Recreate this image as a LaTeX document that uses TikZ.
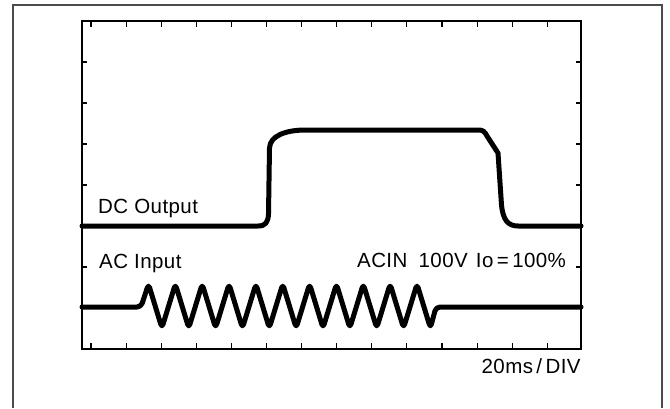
\documentclass[tikz,border=0pt]{standalone}
\usepackage{fontspec}
\setmainfont{Liberation Sans}
\newfontfamily\scopefont[LetterSpace=2]{Liberation Sans}

\begin{document}
\begin{tikzpicture}[x=1pt,y=-1pt,
    frame/.style={draw=black!70,line width=1.3pt},
    axis/.style={line width=1.1pt},
    trace/.style={line width=5pt,line join=round,line cap=round},
    lbl/.style={anchor=base west,inner sep=0pt,font=\fontsize{20.5}{24}\scopefont}]
  \useasboundingbox (0,0) rectangle (670,408);
  \draw[frame] (13,408) -- (13,5) -- (662,5) -- (662,408);

  \coordinate (nw) at (82,21);
  \coordinate (se) at (581,349);
  \draw[axis] (nw) rectangle (se);
  \foreach \i in {0,...,13}
    \draw[axis] (91+35.1*\i,21) -- ++(0,6) (91+35.1*\i,349) -- ++(0,-6);
  \foreach \j in {1,...,7}
    \draw[axis] (82,21+41*\j) -- ++(5,0) (581,21+41*\j) -- ++(-5,0);

  \draw[trace] (82,226) -- (258,226)
    .. controls (266,226) and (268,222) .. (268.5,214) -- (269.5,148)
    .. controls (270,136) and (285,130) .. (306,130) -- (479,130)
    .. controls (483,130) and (485,132) .. (487,136) -- (498,153)
    -- (501.5,205) .. controls (503,220) and (508,226) .. (518,226) -- (581,226);

  \draw[trace,rounded corners=4pt] (82,307) -- (141,307)
    \foreach \k in {0,...,10} { -- (148.5+26.85*\k,284) -- (161.9+26.85*\k,328) }
    -- (436,307) -- (581,307);

  \node[lbl] (dcout) at (98,213.5) {DC\hspace{0.3em}Output};
  \node[lbl] (acin) at (99,268) {AC\hspace{0.3em}Input};
  \node[lbl] (cond) at (357,267.5) {ACIN\hspace{0.55em}100V\hspace{0.4em}Io\,=\,100\%};
  \node[lbl] (scale) at (481.5,373) {20ms\,/\,DIV};
\end{tikzpicture}
\end{document}
